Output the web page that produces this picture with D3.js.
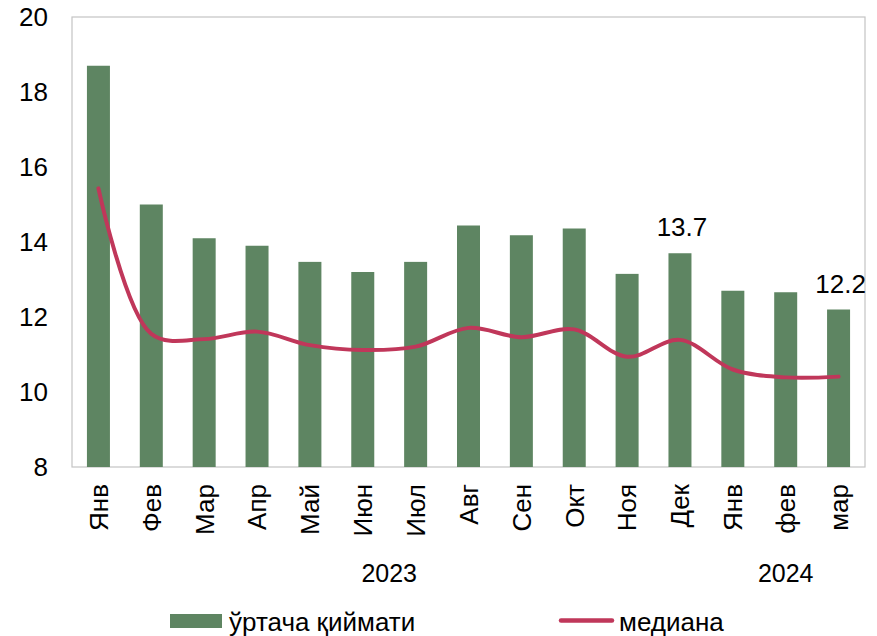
<!DOCTYPE html>
<html>
<head>
<meta charset="utf-8">
<script src="https://cdn.jsdelivr.net/npm/d3@7"></script>
<style>
  html, body { margin: 0; padding: 0; background: #fff; }
  text { font-family: "Liberation Sans", Arial, sans-serif; fill: #000; }
</style>
</head>
<body>
<svg id="chart" width="877" height="636"></svg>
<script>
const categories = ["Янв","Фев","Мар","Апр","Май","Июн","Июл","Авг","Сен","Окт","Ноя","Дек","Янв","фев","мар"];
const meanValues = [18.7, 15.0, 14.1, 13.9, 13.47, 13.2, 13.47, 14.44, 14.18, 14.36, 13.15, 13.7, 12.7, 12.66, 12.2];
const medianValues = [15.43, 11.55, 11.41, 11.61, 11.25, 11.12, 11.21, 11.71, 11.46, 11.67, 10.94, 11.39, 10.6, 10.39, 10.41];
const yTicks = [8, 10, 12, 14, 16, 18, 20];
const yearGroups = [{label: "2023", from: 0, to: 11}, {label: "2024", from: 12, to: 14}];
const dataLabels = [{index: 11, text: "13.7"}, {index: 14, text: "12.2"}];
const seriesNames = ["ўртача қиймати", "медиана"];

const barColor = "#5e8562";
const lineColor = "#c0375a";

const svg = d3.select("#chart");
const pLeft = 72, pRight = 865, pTop = 17, pBottom = 467;

const x = d3.scaleBand().domain(d3.range(categories.length)).range([pLeft, pRight]).paddingInner(0.565).paddingOuter(0.2825);
const y = d3.scaleLinear().domain([8, 20]).range([pBottom, pTop]);

// plot border
svg.append("rect")
  .attr("x", pLeft).attr("y", pTop)
  .attr("width", pRight - pLeft).attr("height", pBottom - pTop)
  .attr("fill", "none").attr("stroke", "#c4c4c4").attr("stroke-width", 1.2);

// bars
svg.append("g").selectAll("rect").data(meanValues).join("rect")
  .attr("x", (d, i) => x(i))
  .attr("y", d => y(d))
  .attr("width", x.bandwidth())
  .attr("height", d => y(8) - y(d))
  .attr("fill", barColor);

// median line
const line = d3.line()
  .x((d, i) => x(i) + x.bandwidth() / 2)
  .y(d => y(d))
  .curve(d3.curveCatmullRom.alpha(0.5));
svg.append("path")
  .attr("d", line(medianValues))
  .attr("fill", "none")
  .attr("stroke", lineColor)
  .attr("stroke-width", 4)
  .attr("stroke-linecap", "round");

// y axis
const yAxis = d3.axisLeft(y).tickValues(yTicks).tickSize(0).tickPadding(0).tickFormat(d3.format("d"));
const gy = svg.append("g").attr("transform", "translate(48,0)").call(yAxis);
gy.select(".domain").remove();
gy.selectAll("text").attr("font-size", 26).attr("fill", "#000")
  .style("font-family", '"Liberation Sans", Arial, sans-serif');

// x axis labels
const xAxis = d3.axisBottom(x).tickSize(0).tickFormat(i => categories[i]);
const gx = svg.append("g").attr("transform", `translate(0,${pBottom})`).call(xAxis);
gx.select(".domain").remove();
gx.selectAll("text")
  .attr("font-size", 26)
  .attr("fill", "#000")
  .style("font-family", '"Liberation Sans", Arial, sans-serif')
  .attr("text-anchor", "end")
  .attr("transform", "rotate(-90)")
  .attr("x", -17)
  .attr("y", 0)
  .attr("dy", "0.36em");

// year labels
svg.append("g").selectAll("text").data(yearGroups).join("text")
  .attr("x", d => (x(d.from) + x(d.to) + x.bandwidth()) / 2)
  .attr("y", 582)
  .attr("text-anchor", "middle")
  .attr("font-size", 25)
  .text(d => d.label);

// data labels
svg.append("g").selectAll("text").data(dataLabels).join("text")
  .attr("x", d => x(d.index) + x.bandwidth() / 2 + 2)
  .attr("y", d => y(meanValues[d.index]) - 17)
  .attr("text-anchor", "middle")
  .attr("font-size", 26)
  .text(d => d.text);

// legend
const lg = svg.append("g");
lg.append("rect").attr("x", 170).attr("y", 614).attr("width", 52).attr("height", 14).attr("fill", barColor);
lg.append("text").attr("x", 229).attr("y", 631).attr("font-size", 26).text(seriesNames[0]);
lg.append("line").attr("x1", 561).attr("x2", 612).attr("y1", 620.5).attr("y2", 620.5)
  .attr("stroke", lineColor).attr("stroke-width", 4.5).attr("stroke-linecap", "round");
lg.append("text").attr("x", 619).attr("y", 631).attr("font-size", 26).text(seriesNames[1]);
</script>
</body>
</html>
